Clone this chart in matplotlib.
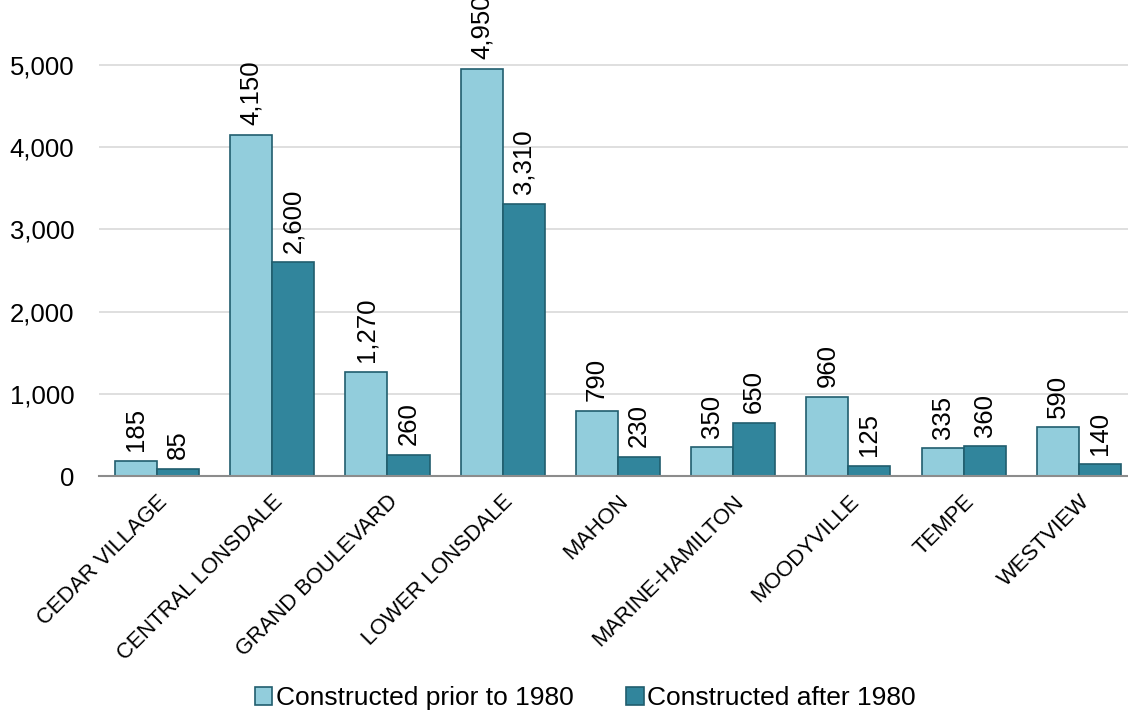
import matplotlib
matplotlib.use("Agg")
import matplotlib.pyplot as plt
import numpy as np
from matplotlib.ticker import FuncFormatter

categories = ["CEDAR VILLAGE", "CENTRAL LONSDALE", "GRAND BOULEVARD", "LOWER LONSDALE",
              "MAHON", "MARINE-HAMILTON", "MOODYVILLE", "TEMPE", "WESTVIEW"]
prior_1980 = [185, 4150, 1270, 4950, 790, 350, 960, 335, 590]
after_1980 = [85, 2600, 260, 3310, 230, 650, 125, 360, 140]
series_names = ["Constructed prior to 1980", "Constructed after 1980"]

plt.rcParams['font.family'] = ['Liberation Sans', 'DejaVu Sans']

fig = plt.figure(figsize=(11.28, 7.17), dpi=100)
ax = fig.add_axes([99.4/1128, 1 - 476/717, 1037/1128, 476/717 - 0.0])

x = np.arange(len(categories))
w = 0.365
light = "#92CDDC"
dark = "#31859C"
edge = "#215E6E"
b1 = ax.bar(x - w/2, prior_1980, w, color=light, edgecolor=edge, linewidth=1.2, label=series_names[0], zorder=3)
b2 = ax.bar(x + w/2, after_1980, w, color=dark, edgecolor=edge, linewidth=1.2, label=series_names[1], zorder=3)

for bars, vals in ((b1, prior_1980), (b2, after_1980)):
    for rect, v in zip(bars, vals):
        ax.annotate(f"{v:,}", (rect.get_x() + rect.get_width()/2, v),
                    xytext=(0, 7), textcoords="offset points",
                    rotation=90, ha="center", va="bottom", fontsize=18.5, color="#000000",
                    annotation_clip=False)

ax.set_xlim(-0.5, len(categories) - 0.5)
ax.set_ylim(0, 5790)
ax.set_yticks([0, 1000, 2000, 3000, 4000, 5000])
ax.yaxis.set_major_formatter(FuncFormatter(lambda v, p: f"{int(v):,}"))
ax.tick_params(axis='y', length=0, pad=18, labelsize=18.5)
ax.set_xticks(x)
ax.set_xticklabels(categories, rotation=45, ha="right", rotation_mode="anchor", fontsize=15.8)
ax.tick_params(axis='x', length=0, pad=11)
ax.grid(axis='y', color="#D9D9D9", linewidth=1.2, zorder=0)
for s in ["top", "right", "left"]:
    ax.spines[s].set_visible(False)
ax.spines["bottom"].set_color("#8C8C8C")
ax.spines["bottom"].set_linewidth(1.5)
ax.spines["bottom"].set_zorder(4)

fig.legend(handles=[b1, b2], labels=series_names, loc="center", bbox_to_anchor=(0.519, 1 - 698/717),
           ncol=2, frameon=False, fontsize=19, handlelength=0.65, handleheight=0.65,
           handletextpad=0.15, columnspacing=2.0)

fig.savefig("out.png", dpi=100)
